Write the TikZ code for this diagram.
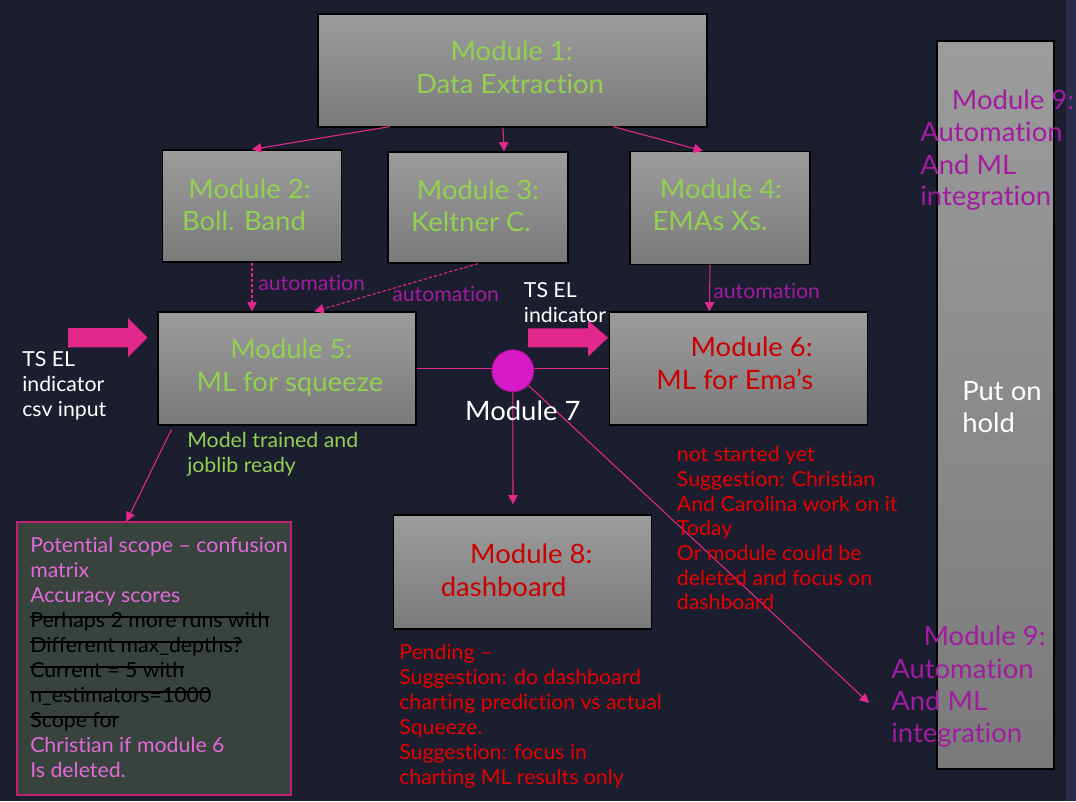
\documentclass[tikz,border=0pt]{standalone}
\usepackage{fontspec}
\setmainfont{Lato}[FakeStretch=1.03, Ligatures=NoCommon]
\newsavebox\stbox
\newcommand\strk[1]{\sbox\stbox{#1}\rlap{\usebox\stbox}\rule[0.45em]{\wd\stbox}{1.1pt}}
\usetikzlibrary{arrows.meta,calc}
\definecolor{bg}{HTML}{1B1E2E}
\definecolor{band}{HTML}{2A2E48}
\definecolor{boxtop}{HTML}{9C9C9C}
\definecolor{boxbot}{HTML}{7A7A7A}
\definecolor{mgreen}{HTML}{92D050}
\definecolor{mred}{HTML}{CC0000}
\definecolor{nred}{HTML}{E60000}
\definecolor{mpurp}{HTML}{A21CA0}
\definecolor{orch}{HTML}{E06AD8}
\definecolor{pinkc}{HTML}{E2288A}
\definecolor{circ}{HTML}{D61AC6}
\definecolor{circb}{HTML}{A8109A}
\definecolor{gbfill}{HTML}{38433D}
\definecolor{gbedge}{HTML}{C0206E}
\begin{document}
\begin{tikzpicture}[x=0.75pt,y=-0.75pt,
  modbox/.style={draw=black, line width=0.9pt, top color=boxtop, bottom color=boxbot, inner sep=0pt},
  big/.style={font=\fontsize{20}{24}\selectfont, inner sep=0pt},
  note/.style={font=\fontsize{15.5}{18.75}\selectfont, inner sep=0pt},
  arr/.style={draw=pinkc, line width=0.8pt, -{Triangle[length=7pt,width=7pt]}},
  darr/.style={arr, dash pattern=on 2.5pt off 1.5pt},
  plainline/.style={draw=pinkc, line width=0.8pt},
  blockarrow/.style={fill=pinkc}]
\useasboundingbox (0,0) rectangle (1076,801);
\fill[bg] (0,0) rectangle (1076,801);
\fill[band] (1066,0) rectangle (1076,801);

% boxes
\node[modbox, minimum width=389*0.75pt, minimum height=113*0.75pt] (m1) at (512.5,70.5) {};
\node[modbox, minimum width=179*0.75pt, minimum height=112*0.75pt] (m2) at (252,206) {};
\node[modbox, minimum width=180*0.75pt, minimum height=111*0.75pt] (m3) at (478,207.5) {};
\node[modbox, minimum width=180*0.75pt, minimum height=113*0.75pt] (m4) at (720,208) {};
\node[modbox, minimum width=258*0.75pt, minimum height=113*0.75pt] (m5) at (287,368.5) {};
\node[modbox, minimum width=258*0.75pt, minimum height=113*0.75pt] (m6) at (738.5,368.5) {};
\node[modbox, minimum width=258*0.75pt, minimum height=114*0.75pt] (m8) at (522.5,572) {};
\node[modbox, minimum width=117*0.75pt, minimum height=728*0.75pt] (m9) at (995.5,405) {};
\node[draw=gbedge, fill=gbfill, line width=0.8pt, inner sep=0pt, minimum width=274*0.75pt, minimum height=273*0.75pt] (gb) at (154,658.5) {};

% box texts
\node[big, text=mgreen, anchor=base] (m1a) at (511.7,60) {Module 1:};
\node[big, text=mgreen, anchor=base] (m1b) at (510,93.3) {Data Extraction};
\node[big, text=mgreen, anchor=base] (m2a) at (249.5,198.3) {Module 2:};
\node[big, text=mgreen, anchor=base] (m2b) at (244,230.7) {Boll. Band};
\node[big, text=mgreen, anchor=base] (m3a) at (478,199.3) {Module 3:};
\node[big, text=mgreen, anchor=base] (m3b) at (471,231.7) {Keltner C.};
\node[big, text=mgreen, anchor=base] (m4a) at (721,198.3) {Module 4:};
\node[big, text=mgreen, anchor=base] (m4b) at (710,230.7) {EMAs Xs.};
\node[big, text=mgreen, anchor=base] (m5a) at (291.4,358.3) {Module 5:};
\node[big, text=mgreen, anchor=base] (m5b) at (289.9,391.7) {ML for squeeze};
\node[big, text=mred, anchor=base] (m6a) at (751.7,356.7) {Module 6:};
\node[big, text=mred, anchor=base] (m6b) at (734.8,389) {ML for Ema’s};
\node[big, text=mred, anchor=base] (m8a) at (531.3,563.3) {Module 8:};
\node[big, text=mred, anchor=base] (m8b) at (503.7,596.7) {dashboard};
\node[big, text=white, anchor=base west] (p1) at (962,400) {Put on};
\node[big, text=white, anchor=base west] (p2) at (962,432) {hold};

% module 9 labels
\node[big, text=mpurp, anchor=base west] (n9a) at (951.7,109) {Module 9:};
\node[big, text=mpurp, anchor=base west] (n9b) at (920,141.7) {Automation};
\node[big, text=mpurp, anchor=base west] (n9c) at (920,174) {And ML};
\node[big, text=mpurp, anchor=base west] (n9d) at (920,205.7) {integration};
\node[big, text=mpurp, anchor=base west] (k9a) at (923.3,645) {Module 9:};
\node[big, text=mpurp, anchor=base west] (k9b) at (891,678) {Automation};
\node[big, text=mpurp, anchor=base west] (k9c) at (891,710.5) {And ML};
\node[big, text=mpurp, anchor=base west] (k9d) at (891,742.7) {integration};

% block arrows
\fill[blockarrow] (68,328) -- (128,328) -- (128,318) -- (147.5,337.7) -- (128,357) -- (128,347.3) -- (68,347.3) -- cycle;
\fill[blockarrow] (528,328.3) -- (588,328.3) -- (588,320.5) -- (608,337.7) -- (588,356.7) -- (588,347.3) -- (528,347.3) -- cycle;

% connectors
\draw[arr] ($(m1.south)+(-122.5,-1)$) -- (m2.north);
\draw[arr] ($(m1.south)+(-9.5,0)$) -- ($(m3.north)+(26,0)$);
\draw[arr] ($(m1.south)+(100.5,-1)$) -- ($(m4.north)+(-17,0)$);
\draw[darr] (m2.south) -- (m2.south |- m5.north);
\draw[darr] (m3.south) -- ($(m5.north west)+(157,0)$);
\draw[arr] ($(m4.south)+(-10,0)$) -- ($(m6.north west)+(100.5,0)$);
\draw[plainline] (m5.east) -- (m6.west);
\node[circle, fill=circ, draw=circb, line width=0.6pt, minimum size=42*0.75pt, inner sep=0pt] (m7) at (512.8,370.8) {};
\coordinate (t9) at (869,703);
\draw[arr] (m7) -- ($(m8.north)+(-9.5,-10)$);
\draw[arr] (m7) -- (t9);
\draw[arr] ($(m5.south west)+(14,4)$) -- ($(gb.north west)+(110,0)$);

% labels
\node[big, text=white, anchor=base] (m7l) at (522.8,420) {Module 7};
\node[note, text=mpurp, anchor=base west] (au1) at (258,290) {automation};
\node[note, text=mpurp, anchor=base west] (au2) at (392,301) {automation};
\node[note, text=mpurp, anchor=base west] (au3) at (713,298) {automation};
\node[note, text=white, anchor=base west] (ts1) at (22,366) {TS EL};
\node[note, text=white, anchor=base west] (ts2) at (22,391) {indicator};
\node[note, text=white, anchor=base west] (ts3) at (22,416) {csv input};
\node[note, text=white, anchor=base west] (tm1) at (523.7,297.7) {TS EL};
\node[note, text=white, anchor=base west] (tm2) at (523.7,322.7) {indicator};
\node[note, text=mgreen, anchor=base west] (mt1) at (187,447) {Model trained and};
\node[note, text=mgreen, anchor=base west] (mt2) at (187,472) {joblib ready};

\foreach \c/\t [count=\i] in {orch/Potential scope – confusion, orch/matrix, orch/Accuracy scores,
  black/\strk{Perhaps 2 more runs with}, black/\strk{Different max\_depths?}, black/\strk{Current = 5 with},
  black/\strk{n\_estimators=1000}, black/\strk{Scope for}, orch/Christian if module 6, orch/Is deleted.}
  \node[note, text=\c, anchor=base west] (gbt\i) at (30,{552+25*(\i-1)}) {\t};

\foreach \t [count=\i] in {not started yet, Suggestion: Christian, And Carolina work on it, Today,
  Or module could be, deleted and focus on, dashboard}
  \node[note, text=nred, anchor=base west] (rn\i) at (676.7,{461.7+24.7*(\i-1)}) {\t};

\foreach \t [count=\i] in {Pending –, Suggestion: do dashboard, charting prediction vs actual, Squeeze.,
  Suggestion: focus in, charting ML results only}
  \node[note, text=nred, anchor=base west] (pn\i) at (399,{659.3+25*(\i-1)}) {\t};
\end{tikzpicture}
\end{document}
